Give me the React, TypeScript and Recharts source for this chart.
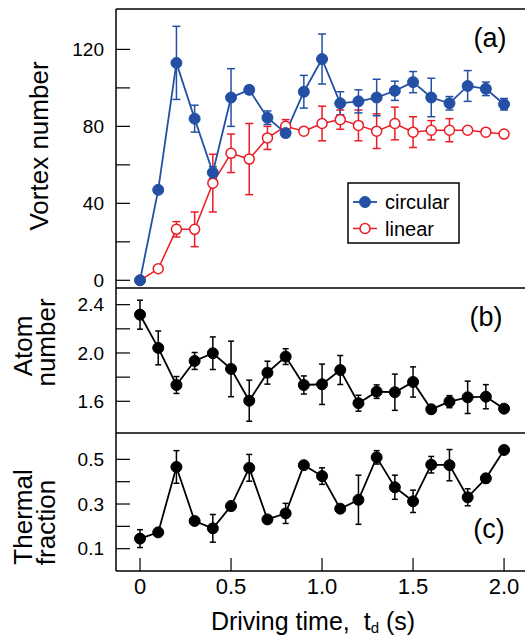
import React from 'react';
import { LineChart, Line, XAxis, YAxis, ErrorBar, ReferenceLine, Customized } from 'recharts';

// ---------- data ----------
const times = [0, 0.1, 0.2, 0.3, 0.4, 0.5, 0.6, 0.7, 0.8, 0.9, 1.0, 1.1, 1.2, 1.3, 1.4, 1.5, 1.6, 1.7, 1.8, 1.9, 2.0];

const circular = [0, 47, 113, 84, 56, 95, 99, 84.5, 76.5, 98, 115, 92, 93, 95, 98.5, 103, 95, 92, 101, 99.5, 91.5];
const circularErr = [0, 0, 19, 7, 3, 15, 2, 3.5, 2, 8.5, 13, 6, 6, 9.5, 5, 5.5, 10, 3.5, 8, 3.5, 3];

const linear = [0, 6, 26.5, 26.5, 50.5, 66, 63, 74, 80, 77.5, 81.5, 83.5, 80.5, 77.5, 81.5, 77, 78, 78, 78, 77, 76];
const linearErr = [0, 0, 4, 9, 15, 10, 18.5, 6, 3.5, 0, 9, 5, 8, 9, 8.5, 8, 5, 6, 0, 0, 0];

const atom = [2.317, 2.042, 1.735, 1.934, 1.998, 1.868, 1.605, 1.837, 1.97, 1.735, 1.741, 1.859, 1.584, 1.68, 1.675, 1.76, 1.534, 1.597, 1.633, 1.638, 1.539];
const atomErr = [0.12, 0.14, 0.07, 0.07, 0.135, 0.23, 0.17, 0.095, 0.065, 0.075, 0.167, 0.12, 0.066, 0.056, 0.15, 0.125, 0, 0.05, 0.134, 0.1, 0];

const thermal = [0.145, 0.173, 0.466, 0.224, 0.191, 0.291, 0.462, 0.231, 0.258, 0.474, 0.425, 0.279, 0.319, 0.509, 0.375, 0.312, 0.476, 0.474, 0.33, 0.415, 0.542];
const thermalErr = [0.04, 0, 0.073, 0, 0.062, 0.02, 0.06, 0, 0.045, 0, 0.037, 0, 0.11, 0.03, 0.054, 0.05, 0.037, 0.07, 0.038, 0.02, 0];

const xTicks = [0, 0.5, 1, 1.5, 2];
const vortexTicks = [0, 20, 40, 60, 80, 100, 120];
const atomTicks = [1.6, 1.8, 2.0, 2.2, 2.4];
const thermalTicks = [0.1, 0.2, 0.3, 0.4, 0.5];
const seriesNames = ['circular', 'linear'];

// ---------- style ----------
const FONT = '"Liberation Sans", Arial, Helvetica, sans-serif';
const BLUE = '#2350a5';
const RED = '#ec1c24';
const BLACK = '#000';
const W = 525;
const H = 639;
const X_DOMAIN: [number, number] = [-0.132, 2.115];

const dataA = times.map((t, i) => ({ t, circular: circular[i], circularErr: circularErr[i], linear: linear[i], linearErr: linearErr[i] }));
const dataB = times.map((t, i) => ({ t, atom: atom[i], atomErr: atomErr[i] }));
const dataC = times.map((t, i) => ({ t, thermal: thermal[i], thermalErr: thermalErr[i] }));

const axisLine = { stroke: BLACK, strokeWidth: 1.5 };
const tickLine = { stroke: BLACK, strokeWidth: 1.2 };
const yTickStyle = { fill: BLACK, fontSize: 19, fontFamily: FONT };
const xTickStyle = { fill: BLACK, fontSize: 22, fontFamily: FONT };

const fmtVortex = (v: number) => (v % 40 === 0 ? String(v) : '');
const fmtAtom = (v: number) => (Math.round(v * 10) % 4 === 0 ? v.toFixed(1) : '');
const fmtThermal = (v: number) => (Math.round(v * 10) % 2 === 1 ? v.toFixed(1) : '');
const fmtX = (v: number) => (v === 0 ? '0' : v.toFixed(1));

const TextsA = () => (
  <g fontFamily={FONT} fill={BLACK}>
    <text x={48} y={146} fontSize={26} textAnchor="middle" transform="rotate(-90, 48, 146)">Vortex number</text>
    <text x={490} y={47} fontSize={27} textAnchor="middle">(a)</text>
    <rect x={348} y={183} width={111} height={60} fill="#fff" stroke={BLACK} strokeWidth={1.5} />
    <line x1={353} x2={377} y1={202} y2={202} stroke={BLUE} strokeWidth={1.8} />
    <circle cx={365} cy={202} r={5.5} fill={BLUE} stroke={BLUE} />
    <text x={385} y={209} fontSize={20}>{seriesNames[0]}</text>
    <line x1={353} x2={377} y1={228.5} y2={228.5} stroke={RED} strokeWidth={1.5} />
    <circle cx={365} cy={228.5} r={5} fill="#fff" stroke={RED} strokeWidth={1.5} />
    <text x={385} y={235.5} fontSize={20}>{seriesNames[1]}</text>
  </g>
);

const TextsB = () => (
  <g fontFamily={FONT} fill={BLACK}>
    <text x={32} y={346} fontSize={26} textAnchor="middle" transform="rotate(-90, 32, 346)">Atom</text>
    <text x={55} y={342.5} fontSize={26} textAnchor="middle" transform="rotate(-90, 55, 342.5)">number</text>
    <text x={486} y={326} fontSize={27} textAnchor="middle">(b)</text>
  </g>
);

const TextsC = () => (
  <g fontFamily={FONT} fill={BLACK}>
    <text x={32} y={517} fontSize={26} textAnchor="middle" transform="rotate(-90, 32, 517)">Thermal</text>
    <text x={55} y={522.5} fontSize={26} textAnchor="middle" transform="rotate(-90, 55, 522.5)">fraction</text>
    <text x={489} y={538} fontSize={27} textAnchor="middle">(c)</text>
    <text x={313} y={630} fontSize={25} textAnchor="middle">
      Driving time,{'\u00a0 '}t<tspan fontSize={15} dy={3}>d</tspan><tspan dy={-3}> (s)</tspan>
    </text>
  </g>
);

const layer: React.CSSProperties = { position: 'absolute', left: 0, top: 0 };

export default function App() {
  return (
    <div style={{ position: 'absolute', left: 0, top: 0, width: W, height: H, background: '#fff', fontFamily: FONT }}>
      {/* Panel (a) */}
      <div style={layer}>
        <LineChart width={W} height={H} data={dataA} margin={{ top: 9, right: 0, left: 56, bottom: 350 }}>
          <XAxis type="number" dataKey="t" domain={X_DOMAIN} allowDataOverflow ticks={xTicks} tick={false}
            tickSize={-13} height={1} axisLine={axisLine} tickLine={tickLine} />
          <YAxis type="number" domain={[-4, 141]} allowDataOverflow ticks={vortexTicks} tickFormatter={fmtVortex}
            width={60} tickSize={-14} tickMargin={26} tick={yTickStyle} axisLine={axisLine} tickLine={tickLine} />
          <ReferenceLine y={141} stroke={BLACK} strokeWidth={1.5} />
          <Line dataKey="linear" stroke={RED} strokeWidth={1.5} isAnimationActive={false} activeDot={false}
            dot={{ r: 5, fill: '#fff', stroke: RED, strokeWidth: 1.5 }}>
            <ErrorBar dataKey="linearErr" direction="y" width={4} stroke={RED} strokeWidth={1.5} isAnimationActive={false} />
          </Line>
          <Line dataKey="circular" stroke={BLUE} strokeWidth={1.8} isAnimationActive={false} activeDot={false}
            dot={{ r: 5.5, fill: BLUE, stroke: BLUE, strokeWidth: 1 }}>
            <ErrorBar dataKey="circularErr" direction="y" width={4} stroke={BLUE} strokeWidth={1.5} isAnimationActive={false} />
          </Line>
          <Customized component={TextsA} />
        </LineChart>
      </div>
      {/* Panel (b) */}
      <div style={layer}>
        <LineChart width={W} height={H} data={dataB} margin={{ top: 288, right: 0, left: 56, bottom: 205 }}>
          <XAxis type="number" dataKey="t" domain={X_DOMAIN} allowDataOverflow ticks={xTicks} tick={false}
            tickSize={-13} height={1} axisLine={axisLine} tickLine={tickLine} />
          <YAxis type="number" domain={[1.3375, 2.538]} allowDataOverflow ticks={atomTicks} tickFormatter={fmtAtom}
            width={60} tickSize={-14} tickMargin={26} tick={yTickStyle} axisLine={axisLine} tickLine={tickLine} />
          <Line dataKey="atom" stroke={BLACK} strokeWidth={1.8} isAnimationActive={false} activeDot={false}
            dot={{ r: 5.5, fill: BLACK, stroke: BLACK, strokeWidth: 1 }}>
            <ErrorBar dataKey="atomErr" direction="y" width={3} stroke={BLACK} strokeWidth={1.5} isAnimationActive={false} />
          </Line>
          <Customized component={TextsB} />
        </LineChart>
      </div>
      {/* Panel (c) */}
      <div style={layer}>
        <LineChart width={W} height={H} data={dataC} margin={{ top: 433, right: 0, left: 56, bottom: 8 }}>
          <XAxis type="number" dataKey="t" domain={X_DOMAIN} allowDataOverflow ticks={xTicks} tickFormatter={fmtX}
            tick={xTickStyle} tickSize={-13} tickMargin={20} height={60} axisLine={axisLine} tickLine={tickLine} />
          <YAxis type="number" domain={[0, 0.618]} allowDataOverflow ticks={thermalTicks} tickFormatter={fmtThermal}
            width={60} tickSize={-14} tickMargin={26} tick={yTickStyle} axisLine={axisLine} tickLine={tickLine} />
          <Line dataKey="thermal" stroke={BLACK} strokeWidth={1.8} isAnimationActive={false} activeDot={false}
            dot={{ r: 5.5, fill: BLACK, stroke: BLACK, strokeWidth: 1 }}>
            <ErrorBar dataKey="thermalErr" direction="y" width={3} stroke={BLACK} strokeWidth={1.5} isAnimationActive={false} />
          </Line>
          <Customized component={TextsC} />
        </LineChart>
      </div>
    </div>
  );
}
